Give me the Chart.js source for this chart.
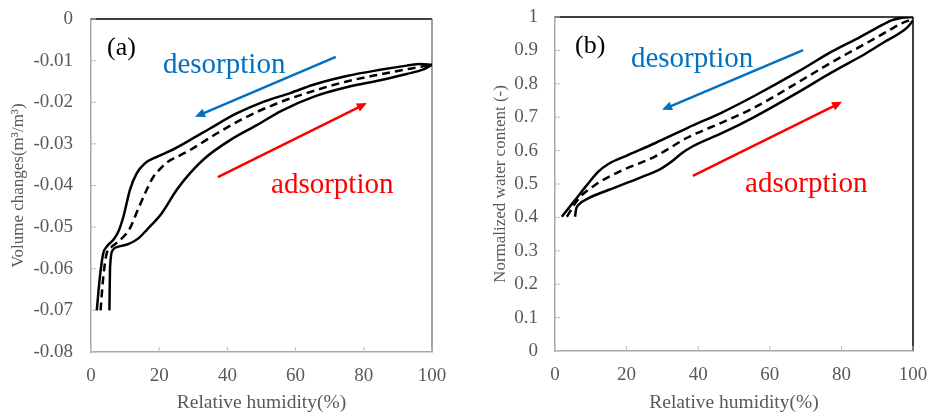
<!DOCTYPE html>
<html>
<head>
<meta charset="utf-8">
<script src="https://cdn.jsdelivr.net/npm/chart.js@4.4.0/dist/chart.umd.min.js"></script>
<style>
  body { margin: 0; background: #fff; }
  #wrap { position: relative; width: 930px; height: 415px; }
  .panel { position: absolute; top: 0; width: 465px; height: 415px; }
</style>
</head>
<body>
<div id="wrap">
  <div class="panel" style="left:0"><canvas id="chartA" width="465" height="415"></canvas></div>
  <div class="panel" style="left:465px"><canvas id="chartB" width="465" height="415"></canvas></div>
</div>
<script>
// (a) volume changes vs relative humidity
var aDesRh = [1.7, 2.6, 3.6, 4.6, 6.5, 8.0, 9.5, 11.4, 13.4, 15.8, 19.3, 23.2, 29, 34.9, 42.7, 50.5, 58.4, 65.2, 75, 84.8, 92.6, 96.5, 100];
var aDesVol = [-0.070, -0.062, -0.0563, -0.0547, -0.0531, -0.0511, -0.0475, -0.0411, -0.0371, -0.0347, -0.0331, -0.0317, -0.0291, -0.0263, -0.0227, -0.0199, -0.0178, -0.0158, -0.0137, -0.0122, -0.0112, -0.0108, -0.011];
var aAdsRh = [5.4, 5.6, 6.4, 8.0, 10.9, 13.9, 16.3, 20.7, 25.1, 29, 33.9, 40.8, 48.6, 56, 65.2, 75, 84.8, 92.6, 97.5, 100];
var aAdsVol = [-0.070, -0.0595, -0.0555, -0.0547, -0.0541, -0.0527, -0.0507, -0.0467, -0.0411, -0.0371, -0.0331, -0.0291, -0.0255, -0.0220, -0.0187, -0.0164, -0.0147, -0.0132, -0.0121, -0.011];
var aMidRh = [2.8, 3.6, 4.6, 6.1, 8, 10, 11.4, 13.9, 16.3, 18.3, 20.5, 22.2, 26, 29, 36.9, 44.7, 54.5, 65.2, 75, 84.8, 94.5, 100];
var aMidVol = [-0.070, -0.062, -0.0563, -0.0547, -0.0535, -0.0519, -0.0503, -0.0455, -0.0411, -0.0379, -0.0358, -0.0345, -0.0328, -0.0315, -0.0275, -0.0239, -0.0203, -0.0173, -0.0150, -0.0133, -0.0118, -0.011];

// (b) normalized water content vs relative humidity
var bDesRh = [1.9, 5.6, 9.3, 12.1, 14.9, 20.5, 27.9, 37.2, 46.6, 55.9, 68, 77.4, 85.2, 90, 94, 97, 100];
var bDesW = [0.402, 0.452, 0.502, 0.537, 0.560, 0.587, 0.622, 0.669, 0.714, 0.765, 0.837, 0.897, 0.940, 0.968, 0.990, 0.998, 1.0];
var bAdsRh = [5.6, 5.9, 6.5, 9.3, 14.9, 23.3, 29.8, 32.6, 35.4, 38.5, 46.6, 55.9, 68, 77.4, 86.7, 92, 96, 98.5, 100];
var bAdsW = [0.402, 0.425, 0.437, 0.457, 0.482, 0.517, 0.547, 0.567, 0.592, 0.613, 0.652, 0.702, 0.775, 0.835, 0.890, 0.925, 0.950, 0.970, 0.99];
var bMidRh = [3.3, 6.5, 11.2, 18.6, 27.9, 37.2, 46.6, 55.9, 68, 77.4, 86.7, 93, 97, 99];
var bMidW = [0.402, 0.455, 0.497, 0.540, 0.582, 0.640, 0.684, 0.730, 0.805, 0.865, 0.920, 0.958, 0.982, 0.99];

var xTicks = [0, 20, 40, 60, 80, 100];

var serif = "'Liberation Serif', 'Times New Roman', serif";
var gray = '#595959';

function pts(xs, ys) {
  return xs.map(function (x, i) { return { x: x, y: ys[i] }; });
}

function curve(data, dashed) {
  return {
    data: data,
    showLine: true,
    borderColor: '#000',
    borderWidth: 2.5,
    borderDash: dashed ? [8, 5] : [],
    pointRadius: 0,
    cubicInterpolationMode: 'monotone',
    fill: false
  };
}

// top/right frame and inward tick marks
var framePlugin = {
  id: 'frame',
  beforeDatasetsDraw: function (chart, args, opts) {
    var ctx = chart.ctx, a = chart.chartArea;
    var xs = chart.scales.x, ys = chart.scales.y;
    ctx.save();
    ctx.lineWidth = 1.5;
    ctx.strokeStyle = '#000';
    ctx.beginPath();
    ctx.moveTo(a.left, a.top);
    ctx.lineTo(a.right, a.top);
    ctx.stroke();
    ctx.strokeStyle = opts.rightColor;
    ctx.beginPath();
    ctx.moveTo(a.right, a.top);
    ctx.lineTo(a.right, a.bottom);
    ctx.stroke();
    ctx.strokeStyle = '#c0c0c0';
    ctx.lineWidth = 1;
    xs.ticks.forEach(function (t) {
      var px = xs.getPixelForValue(t.value);
      ctx.beginPath();
      ctx.moveTo(px, a.bottom);
      ctx.lineTo(px, a.bottom - 5);
      ctx.stroke();
    });
    ys.ticks.forEach(function (t) {
      var py = ys.getPixelForValue(t.value);
      ctx.beginPath();
      ctx.moveTo(a.left, py);
      ctx.lineTo(a.left + 5, py);
      ctx.stroke();
    });
    ctx.restore();
  }
};

// arrows and text notes, placed in data units
var notesPlugin = {
  id: 'notes',
  afterDatasetsDraw: function (chart, args, opts) {
    var ctx = chart.ctx, xs = chart.scales.x, ys = chart.scales.y;
    ctx.save();
    (opts.arrows || []).forEach(function (ar) {
      var x1 = xs.getPixelForValue(ar.from[0]), y1 = ys.getPixelForValue(ar.from[1]);
      var x2 = xs.getPixelForValue(ar.to[0]), y2 = ys.getPixelForValue(ar.to[1]);
      var ang = Math.atan2(y2 - y1, x2 - x1);
      var head = 11;
      ctx.strokeStyle = ar.color;
      ctx.fillStyle = ar.color;
      ctx.lineWidth = 2.5;
      ctx.beginPath();
      ctx.moveTo(x1, y1);
      ctx.lineTo(x2 - Math.cos(ang) * head * 0.7, y2 - Math.sin(ang) * head * 0.7);
      ctx.stroke();
      ctx.beginPath();
      ctx.moveTo(x2, y2);
      ctx.lineTo(x2 - head * Math.cos(ang - 0.42), y2 - head * Math.sin(ang - 0.42));
      ctx.lineTo(x2 - head * Math.cos(ang + 0.42), y2 - head * Math.sin(ang + 0.42));
      ctx.closePath();
      ctx.fill();
    });
    (opts.labels || []).forEach(function (lb) {
      ctx.fillStyle = lb.color;
      ctx.font = lb.size + 'px ' + serif;
      ctx.textAlign = 'left';
      ctx.textBaseline = 'alphabetic';
      ctx.fillText(lb.text, xs.getPixelForValue(lb.at[0]), ys.getPixelForValue(lb.at[1]));
    });
    ctx.restore();
  }
};

function tickFmt(v) {
  return String(parseFloat(v.toFixed(3)));
}

function makeChart(id, cfg) {
  return new Chart(document.getElementById(id), {
    type: 'scatter',
    data: { datasets: cfg.datasets },
    options: {
      responsive: false,
      animation: false,
      layout: { padding: cfg.padding },
      plugins: {
        legend: { display: false },
        tooltip: { enabled: false },
        frame: { rightColor: cfg.rightColor },
        notes: { arrows: cfg.arrows, labels: cfg.labels }
      },
      scales: {
        x: {
          type: 'linear',
          min: 0,
          max: 100,
          afterBuildTicks: function (s) { s.ticks = xTicks.map(function (v) { return { value: v }; }); },
          ticks: { padding: 13, color: gray, font: { family: serif, size: 19 } },
          grid: { display: false, drawTicks: false },
          border: { color: '#a6a6a6', width: 1.5 },
          title: { display: true, text: 'Relative humidity(%)', color: gray, font: { family: serif, size: 19.5 }, padding: { top: 1, bottom: 0 } },
          afterFit: function (s) {
            s.height = cfg.xHeight;
            s.paddingLeft = 0;
            s.paddingRight = 0;
          }
        },
        y: {
          type: 'linear',
          min: cfg.yMin,
          max: cfg.yMax,
          ticks: { stepSize: cfg.yStep, padding: cfg.yPad, color: gray, font: { family: serif, size: 19 }, callback: tickFmt },
          grid: { display: false, drawTicks: false },
          border: { color: '#a6a6a6', width: 1.5 },
          title: { display: true, text: cfg.yTitle, color: gray, font: { family: serif, size: 17 }, padding: { top: cfg.yTitlePad, bottom: 0 } },
          afterFit: function (s) {
            s.width = cfg.yWidth;
            s.paddingTop = 0;
            s.paddingBottom = 0;
          }
        }
      }
    },
    plugins: [framePlugin, notesPlugin]
  });
}

makeChart('chartA', {
  datasets: [
    curve(pts(aDesRh, aDesVol), false),
    curve(pts(aAdsRh, aAdsVol), false),
    curve(pts(aMidRh, aMidVol), true)
  ],
  padding: { left: 0, right: 33, top: 19, bottom: 0 },
  rightColor: '#7f7f7f',
  xHeight: 63,
  yWidth: 91,
  yPad: 18,
  yTitlePad: 8,
  yMin: -0.08,
  yMax: 0,
  yStep: 0.01,
  yTitle: 'Volume changes(m³/m³)',
  arrows: [
    { from: [71.8, -0.0091], to: [30.5, -0.0235], color: '#0070C0' },
    { from: [37.2, -0.0380], to: [80.9, -0.0202], color: '#FF0000' }
  ],
  labels: [
    { text: '(a)', at: [4.7, -0.0086], size: 26, color: '#000' },
    { text: 'desorption', at: [21.1, -0.0130], size: 29, color: '#0070C0' },
    { text: 'adsorption', at: [52.8, -0.0418], size: 29, color: '#FF0000' }
  ]
});

makeChart('chartB', {
  datasets: [
    curve(pts(bDesRh, bDesW), false),
    curve(pts(bAdsRh, bAdsW), false),
    curve(pts(bMidRh, bMidW), true)
  ],
  padding: { left: 0, right: 17, top: 17, bottom: 0 },
  rightColor: '#000',
  xHeight: 64,
  yWidth: 90,
  yPad: 17,
  yTitlePad: 25,
  yMin: 0,
  yMax: 1,
  yStep: 0.1,
  yTitle: 'Normalized water content (-)',
  arrows: [
    { from: [69.3, 0.901], to: [29.9, 0.722], color: '#0070C0' },
    { from: [38.5, 0.524], to: [80.2, 0.746], color: '#FF0000' }
  ],
  labels: [
    { text: '(b)', at: [5.6, 0.892], size: 26, color: '#000' },
    { text: 'desorption', at: [21.2, 0.850], size: 29, color: '#0070C0' },
    { text: 'adsorption', at: [53.1, 0.476], size: 29, color: '#FF0000' }
  ]
});
</script>
</body>
</html>
